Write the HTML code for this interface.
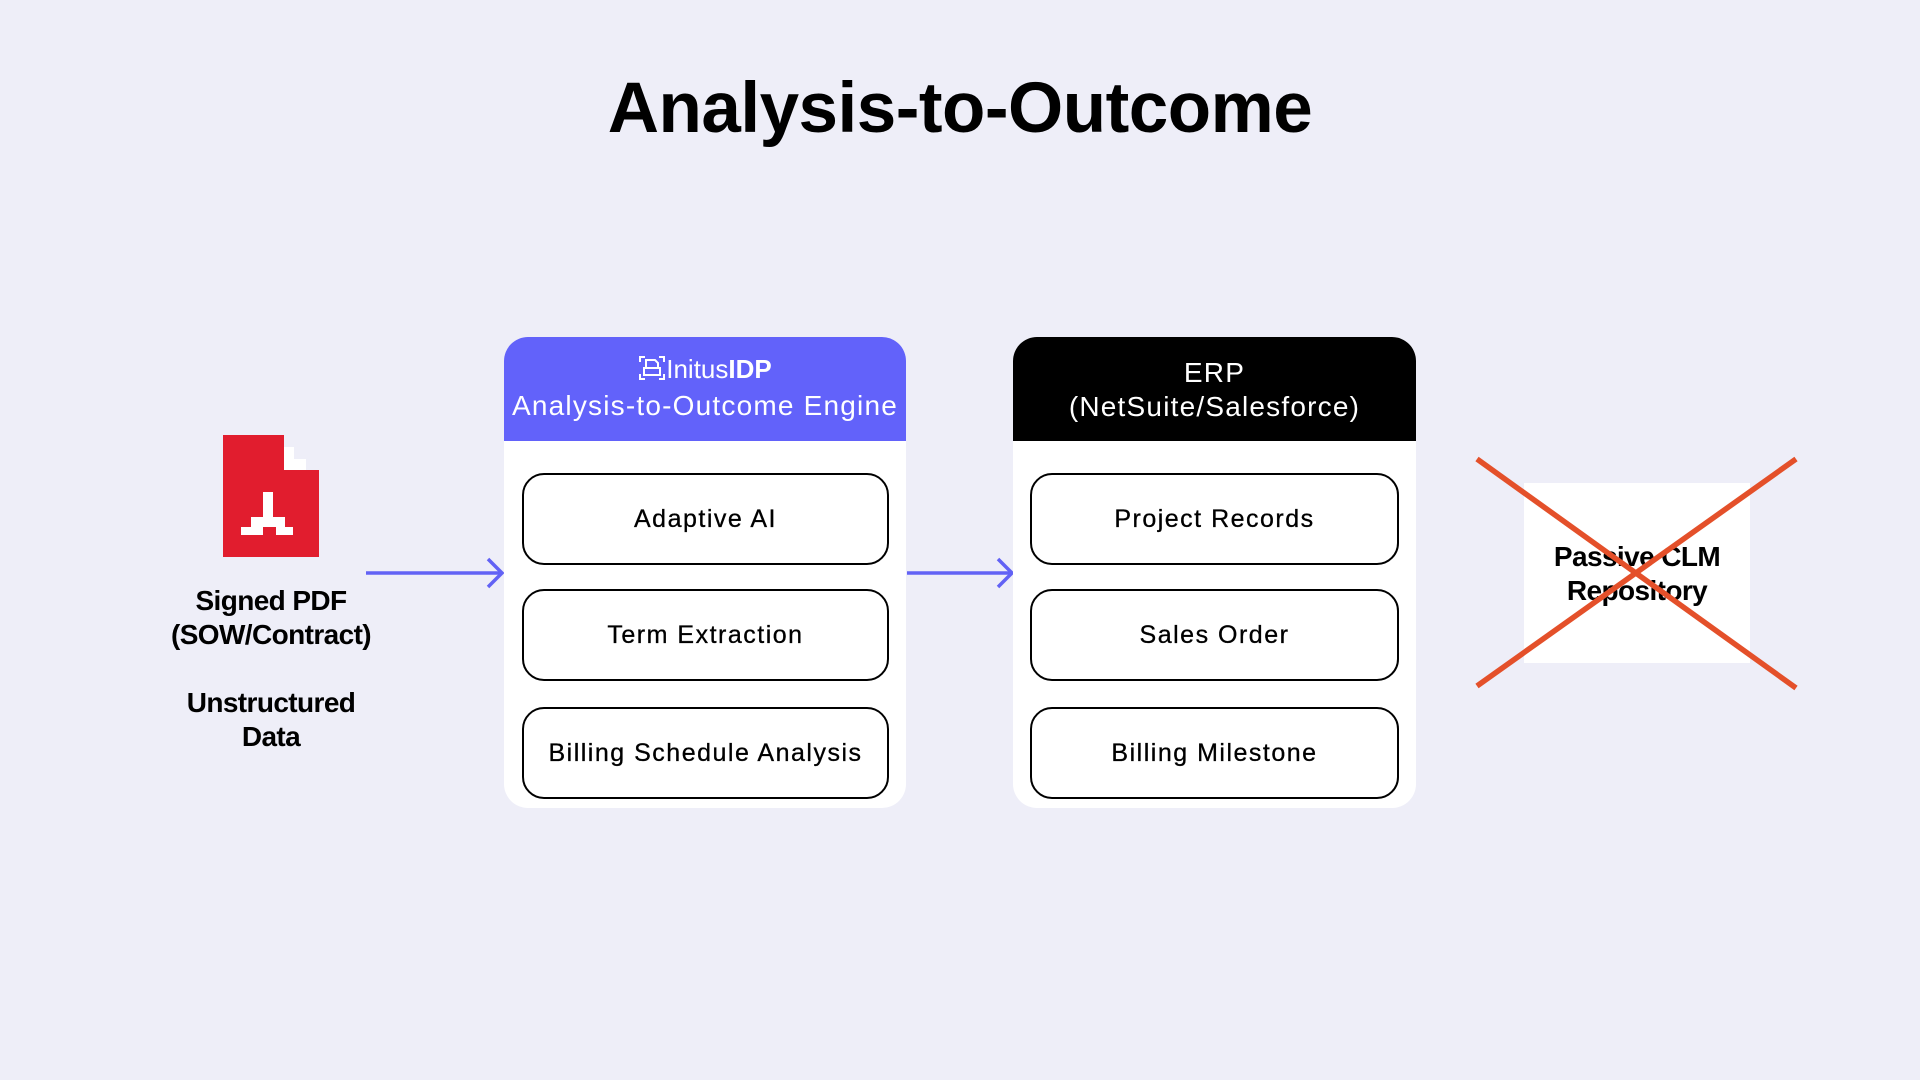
<!DOCTYPE html>
<html><head><meta charset="utf-8"><style>
*{margin:0;padding:0;box-sizing:border-box}
body{width:1920px;height:1080px;background:#eeeef8;position:relative;overflow:hidden;font-family:"Liberation Sans",sans-serif;color:#000}
.abs{position:absolute}
.t{position:absolute;text-align:center;white-space:nowrap}
.card{position:absolute;background:#fff;border-radius:24px;overflow:hidden}
.hdr{position:absolute;left:0;top:0;right:0;height:104px;color:#fff}
.item{position:absolute;border:2.5px solid #000;border-radius:22px;background:#fff;display:flex;align-items:center;justify-content:center;font-size:25px;letter-spacing:1.5px;-webkit-text-stroke:0.3px #000}
</style></head><body>
<div class="t" style="left:0;width:1920px;top:68px;font-size:71px;font-weight:bold;letter-spacing:-0.5px">Analysis-to-Outcome</div>

<svg class="abs" style="left:0;top:0" width="1920" height="1080">
 <path d="M223 435 H284 V447 H294 V459 H306 V470 H319 V557 H223 Z" fill="#e11d2e"/>
 <path d="M284 447 H294 V459 H306 V470 H284 Z" fill="#fff"/>
 <rect x="263" y="492" width="10" height="35" fill="#fff"/>
 <rect x="251" y="517" width="12" height="10" fill="#fff"/>
 <rect x="241" y="527" width="22" height="8" fill="#fff"/>
 <rect x="273" y="517" width="12" height="10" fill="#fff"/>
 <rect x="276" y="527" width="17" height="8" fill="#fff"/>
 <g stroke="#6262f5" stroke-width="3.5" fill="none">
  <line x1="366" y1="573" x2="502" y2="573"/><polyline points="488,559 502,573 488,587"/>
  <line x1="907" y1="573" x2="1012" y2="573"/><polyline points="998,559 1012,573 998,587"/>
 </g>
</svg>

<div class="t" style="left:130px;width:282px;top:584px;font-size:28px;line-height:34px;font-weight:bold;letter-spacing:-0.6px">Signed PDF<br>(SOW/Contract)</div>
<div class="t" style="left:130px;width:282px;top:686px;font-size:28px;line-height:34px;font-weight:bold;letter-spacing:-0.6px">Unstructured<br>Data</div>

<div class="card" style="left:504px;top:337px;width:402px;height:471px">
 <div class="hdr" style="background:#6262fa">
  <div class="t" style="left:0;width:402px;top:17px;font-size:26px">
   <svg width="28" height="26" viewBox="0 0 28 26" style="vertical-align:-3px" fill="none" stroke="#fff" stroke-width="2"><path d="M2 7V2H7M21 2H26V7M2 19V24H7M21 24H26V19"/><path d="M8 13V5H17L20 8V13M6 13H22V20H6Z"/></svg>Initus<b>IDP</b></div>
  <div class="t" style="left:0;width:402px;top:53px;font-size:28px;letter-spacing:1.2px">Analysis-to-Outcome Engine</div>
 </div>
 <div class="item" style="left:18px;top:136px;width:367px;height:92px">Adaptive AI</div>
 <div class="item" style="left:18px;top:252px;width:367px;height:92px">Term Extraction</div>
 <div class="item" style="left:18px;top:370px;width:367px;height:92px">Billing Schedule Analysis</div>
</div>

<div class="card" style="left:1013px;top:337px;width:403px;height:471px">
 <div class="hdr" style="background:#000">
  <div class="t" style="left:0;width:403px;top:19px;font-size:28px;line-height:34px;letter-spacing:1.2px">ERP<br>(NetSuite/Salesforce)</div>
 </div>
 <div class="item" style="left:17px;top:136px;width:369px;height:92px">Project Records</div>
 <div class="item" style="left:17px;top:252px;width:369px;height:92px">Sales Order</div>
 <div class="item" style="left:17px;top:370px;width:369px;height:92px">Billing Milestone</div>
</div>

<div class="abs" style="left:1524px;top:483px;width:226px;height:180px;background:#fff"></div>
<div class="t" style="left:1504px;width:266px;top:540px;font-size:28px;line-height:34px;font-weight:bold;letter-spacing:-0.6px">Passive CLM<br>Repository</div>
<svg class="abs" style="left:0;top:0" width="1920" height="1080">
 <g stroke="#e4502a" stroke-width="5.5">
  <line x1="1477" y1="459" x2="1796" y2="688"/>
  <line x1="1477" y1="686" x2="1796" y2="459"/>
 </g>
</svg>
</body></html>
